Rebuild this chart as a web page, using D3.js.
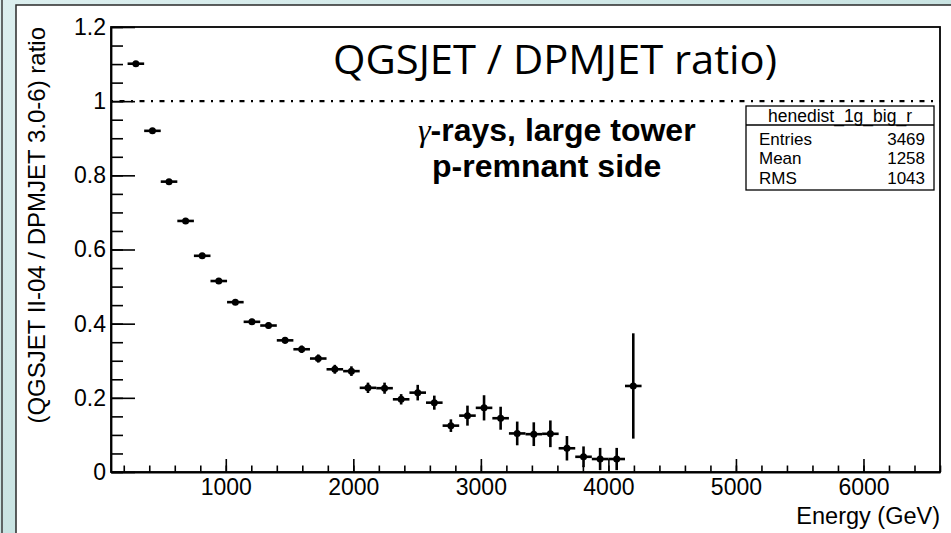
<!DOCTYPE html>
<html>
<head>
<meta charset="utf-8">
<script src="https://cdn.jsdelivr.net/npm/d3@7"></script>
<style>
  html, body { margin: 0; padding: 0; background: #fff; }
  svg { display: block; }
</style>
</head>
<body>
<svg id="chart" width="951" height="533" font-family="Liberation Sans, Arial, Helvetica, sans-serif"></svg>
<script>
// ---------------- data ----------------
const energy = [295, 425, 555, 685, 815, 945, 1075, 1205, 1335, 1465, 1595, 1725, 1855, 1985,
  2115, 2245, 2375, 2505, 2635, 2765, 2895, 3025, 3155, 3285, 3415, 3545, 3675, 3805, 3935, 4065, 4195];
const ratio = [1.101, 0.920, 0.783, 0.677, 0.583, 0.515, 0.458, 0.405, 0.395, 0.355, 0.331, 0.306,
  0.277, 0.272, 0.227, 0.226, 0.196, 0.214, 0.187, 0.125, 0.152, 0.173, 0.145, 0.104, 0.102, 0.103,
  0.064, 0.041, 0.035, 0.035, 0.232];
const ratioErr = [0.004, 0.005, 0.005, 0.005, 0.006, 0.006, 0.007, 0.008, 0.008, 0.009, 0.010, 0.011,
  0.012, 0.013, 0.014, 0.015, 0.014, 0.021, 0.019, 0.017, 0.027, 0.034, 0.031, 0.032, 0.032, 0.036,
  0.033, 0.028, 0.030, 0.030, 0.142];
const binWidth = 130;
const xDomain = [100, 6600];
const yDomain = [0, 1.2];
const xMajorTicks = [1000, 2000, 3000, 4000, 5000, 6000];
const xTickLabels = ["1000", "2000", "3000", "4000", "5000", "6000"];
const yMajorTicks = [0, 0.2, 0.4, 0.6, 0.8, 1.0, 1.2];
const yTickLabels = ["0", "0.2", "0.4", "0.6", "0.8", "1", "1.2"];
const referenceLevel = 1.0;
const statNames = ["Entries", "Mean", "RMS"];
const statValues = ["3469", "1258", "1043"];
const histName = "henedist_1g_big_r";
const titleText = "QGSJET / DPMJET ratio)";
const noteGreek = "\u03B3";
const noteLines = ["-rays, large tower", "p-remnant side"];
const xTitle = "Energy (GeV)";
const yTitle = "(QGSJET II-04 / DPMJET 3.0-6) ratio";

// ---------------- layout ----------------
const svg = d3.select("#chart");
const W = 951, H = 533;
const plot = { left: 111, right: 940, top: 27, bottom: 472 };
const helv = "Liberation Sans, Arial, Helvetica, sans-serif";

// slide background
const defs = svg.append("defs");
const g1 = defs.append("linearGradient").attr("id", "bgGrad").attr("x1", 0).attr("y1", 0).attr("x2", 1).attr("y2", 1);
g1.append("stop").attr("offset", "0%").attr("stop-color", "#dcefef");
g1.append("stop").attr("offset", "100%").attr("stop-color", "#b7d9d6");
svg.append("rect").attr("x", 0).attr("y", 0).attr("width", W).attr("height", H).attr("fill", "url(#bgGrad)");
svg.append("line").attr("x1", 2).attr("x2", 2).attr("y1", 0).attr("y2", H).attr("stroke", "#3a3a3a").attr("stroke-width", 1.5);
svg.append("rect").attr("x", 16).attr("y", 5).attr("width", W - 16 + 2).attr("height", H - 5 + 2)
  .attr("fill", "#fff").attr("stroke", "#2a2a2a").attr("stroke-width", 1.5);

const x = d3.scaleLinear().domain(xDomain).range([plot.left, plot.right]);
const y = d3.scaleLinear().domain(yDomain).range([plot.bottom, plot.top]);

// frame
svg.append("rect").attr("x", plot.left).attr("y", plot.top)
  .attr("width", plot.right - plot.left).attr("height", plot.bottom - plot.top)
  .attr("fill", "none").attr("stroke", "#000").attr("stroke-width", 1.8);

// y axis minor ticks
const yMinor = d3.range(0, 1.2001, 0.05);
svg.append("g").attr("transform", `translate(${plot.left},0)`)
  .call(d3.axisLeft(y).tickValues(yMinor).tickSizeInner(-12).tickSizeOuter(0).tickFormat(""))
  .call(g => g.select(".domain").remove())
  .call(g => g.selectAll("line").attr("stroke", "#000").attr("stroke-width", 1.6));
// y axis major
svg.append("g").attr("transform", `translate(${plot.left},0)`)
  .call(d3.axisLeft(y).tickValues(yMajorTicks).tickSizeInner(-24).tickSizeOuter(0).tickPadding(5)
    .tickFormat((d, i) => yTickLabels[i]))
  .call(g => g.select(".domain").attr("stroke", "#000").attr("stroke-width", 1.8))
  .call(g => g.selectAll("line").attr("stroke", "#000").attr("stroke-width", 1.6))
  .call(g => g.attr("font-family", helv).attr("font-size", 23))
  .call(g => g.selectAll("text").attr("fill", "#000"));

// x axis minor
const xMinor = d3.range(200, 6601, 200);
svg.append("g").attr("transform", `translate(0,${plot.bottom})`)
  .call(d3.axisBottom(x).tickValues(xMinor).tickSizeInner(-6.5).tickSizeOuter(0).tickFormat(""))
  .call(g => g.select(".domain").remove())
  .call(g => g.selectAll("line").attr("stroke", "#000").attr("stroke-width", 1.6));
// x axis major
svg.append("g").attr("transform", `translate(0,${plot.bottom})`)
  .call(d3.axisBottom(x).tickValues(xMajorTicks).tickSizeInner(-13).tickSizeOuter(0).tickPadding(7)
    .tickFormat((d, i) => xTickLabels[i]))
  .call(g => g.select(".domain").attr("stroke", "#000").attr("stroke-width", 1.8))
  .call(g => g.selectAll("line").attr("stroke", "#000").attr("stroke-width", 1.6))
  .call(g => g.attr("font-family", helv).attr("font-size", 23))
  .call(g => g.selectAll("text").attr("fill", "#000"));

// axis titles
svg.append("text").attr("x", plot.right).attr("y", 524).attr("text-anchor", "end")
  .attr("font-size", 23.5).attr("fill", "#000").text(xTitle);
svg.append("text").attr("transform", `translate(45,${plot.top}) rotate(-90)`).attr("text-anchor", "end")
  .attr("font-size", 24).attr("fill", "#000").text(yTitle);

// reference line at 1
svg.append("line").attr("x1", plot.left).attr("x2", plot.right)
  .attr("y1", y(referenceLevel)).attr("y2", y(referenceLevel))
  .attr("stroke", "#000").attr("stroke-width", 2.2).attr("stroke-dasharray", "2,6.5,5,6.5");

// data points
const pts = svg.append("g").selectAll("g").data(energy.map((e, i) => ({ e, r: ratio[i], s: ratioErr[i] })))
  .join("g");
pts.append("line")
  .attr("x1", d => x(d.e - binWidth / 2)).attr("x2", d => x(d.e + binWidth / 2))
  .attr("y1", d => y(d.r)).attr("y2", d => y(d.r))
  .attr("stroke", "#000").attr("stroke-width", 2.6);
pts.append("line")
  .attr("x1", d => x(d.e)).attr("x2", d => x(d.e))
  .attr("y1", d => y(d.r - d.s)).attr("y2", d => y(d.r + d.s))
  .attr("stroke", "#000").attr("stroke-width", 2.6);
pts.append("circle").attr("cx", d => x(d.e)).attr("cy", d => y(d.r)).attr("r", 3.5).attr("fill", "#000");

// title (slide text)
svg.append("text").attr("x", 333).attr("y", 74)
  .attr("font-family", "Open Sans, Lato, sans-serif").attr("font-size", 40)
  .attr("textLength", 444).attr("lengthAdjust", "spacingAndGlyphs")
  .attr("fill", "#000").text(titleText);

// annotation
const t1 = svg.append("text").attr("x", 418).attr("y", 141).attr("font-size", 32).attr("fill", "#000");
t1.append("tspan").attr("font-family", "Liberation Serif, DejaVu Serif, serif").attr("font-weight", "normal")
  .attr("font-style", "italic").text(noteGreek);
t1.append("tspan").attr("font-weight", "bold").text(noteLines[0]);
svg.append("text").attr("x", 432).attr("y", 177).attr("font-weight", "bold")
  .attr("font-size", 32).attr("fill", "#000").text(noteLines[1]);

// stats box
const box = { x: 746, y: 106, w: 188, h: 84, head: 19 };
svg.append("rect").attr("x", box.x).attr("y", box.y).attr("width", box.w).attr("height", box.h)
  .attr("fill", "#fff").attr("stroke", "#000").attr("stroke-width", 1.3);
svg.append("line").attr("x1", box.x).attr("x2", box.x + box.w)
  .attr("y1", box.y + box.head).attr("y2", box.y + box.head).attr("stroke", "#000").attr("stroke-width", 1.3);
svg.append("text").attr("x", box.x + box.w / 2).attr("y", box.y + 15.5).attr("text-anchor", "middle")
  .attr("font-size", 17.5).attr("fill", "#000").text(histName);
const rowY = [145, 164, 184];
statNames.forEach((n, i) => {
  svg.append("text").attr("x", box.x + 13).attr("y", rowY[i]).attr("font-size", 17)
    .attr("fill", "#000").text(n);
  svg.append("text").attr("x", box.x + box.w - 9).attr("y", rowY[i]).attr("font-size", 17)
    .attr("text-anchor", "end").attr("fill", "#000").text(statValues[i]);
});
</script>
</body>
</html>
